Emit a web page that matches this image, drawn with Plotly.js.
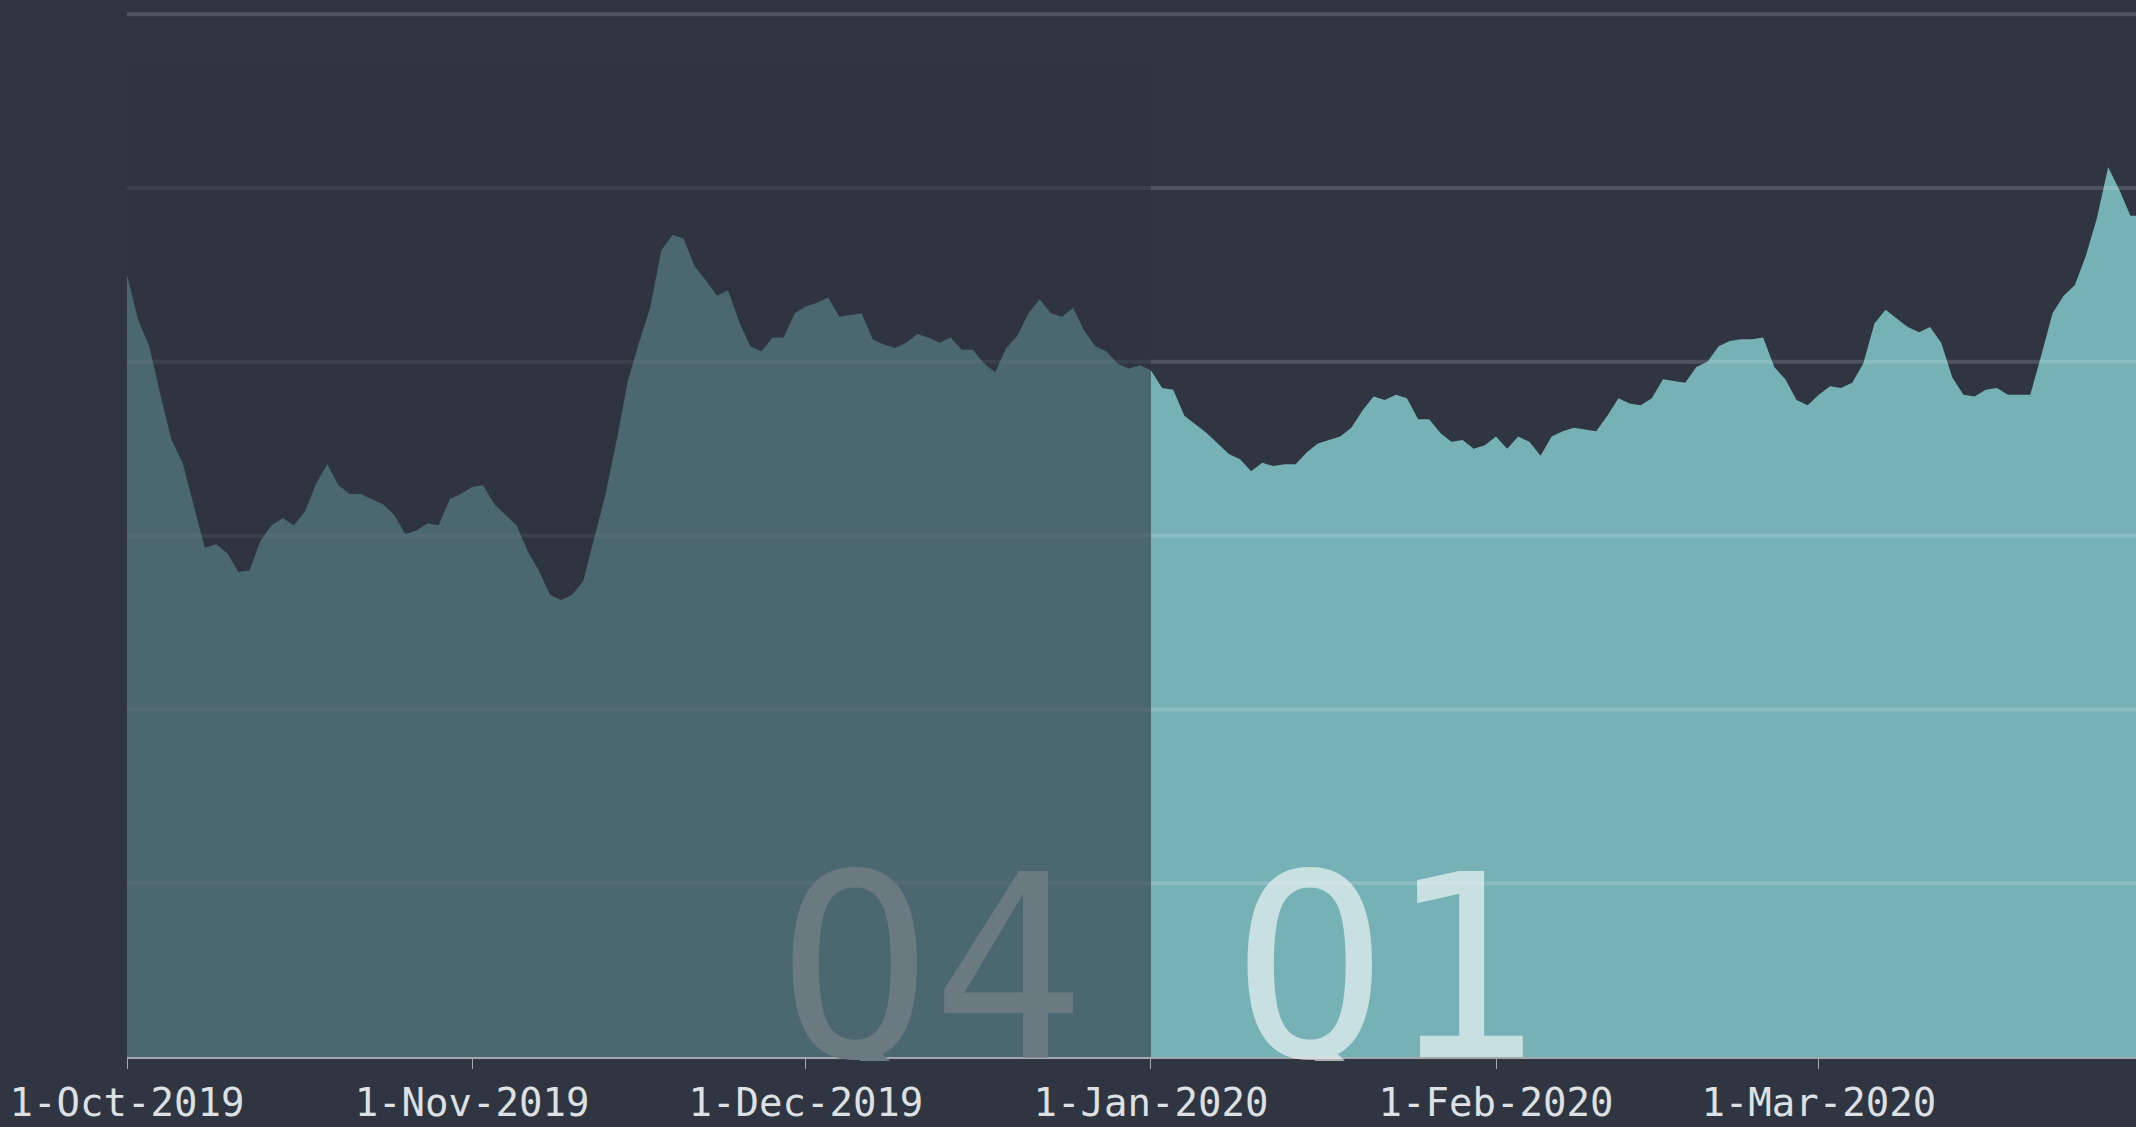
<!DOCTYPE html>
<html>
<head>
<meta charset="utf-8">
<script src="https://cdn.plot.ly/plotly-3.0.1.min.js"></script>
<style>
  html, body { margin: 0; padding: 0; background: #2f3641; }
  #chart { width: 2136px; height: 1127px; }
</style>
</head>
<body>
<div id="chart"></div>
<script>
// ---- data (daily values) ----
const startDate = '2019-10-01';
const values = [
  45.0, 42.4, 40.9, 38.1, 35.5, 34.2, 31.7, 29.3, 29.5, 29.0,
  27.9, 28.0, 29.7, 30.6, 31.0, 30.6, 31.4, 33.0, 34.1, 32.9,
  32.4, 32.4, 32.1, 31.8, 31.2, 30.1, 30.3, 30.7, 30.6, 32.1,
  32.4, 32.8, 32.9, 31.8, 31.2, 30.6, 29.1, 28.0, 26.6, 26.3,
  26.6, 27.4, 29.9, 32.4, 35.5, 38.9, 41.1, 43.1, 46.4, 47.3,
  47.1, 45.5, 44.7, 43.8, 44.1, 42.3, 40.9, 40.6, 41.4, 41.4,
  42.8, 43.2, 43.4, 43.7, 42.6, 42.7, 42.8, 41.3, 41.0, 40.8,
  41.1, 41.6, 41.4, 41.1, 41.4, 40.7, 40.7, 39.9, 39.4, 40.8,
  41.5, 42.8, 43.6, 42.8, 42.6, 43.1, 41.8, 40.9, 40.6, 39.9,
  39.6, 39.8, 39.5, 38.5, 38.4, 36.9, 36.4, 35.9, 35.3, 34.7,
  34.4, 33.7, 34.2, 34.0, 34.1, 34.1, 34.8, 35.3, 35.5, 35.7,
  36.2, 37.2, 38.0, 37.8, 38.1, 37.9, 36.7, 36.7, 35.9, 35.4,
  35.5, 35.0, 35.2, 35.7, 35.0, 35.7, 35.4, 34.6, 35.7, 36.0,
  36.2, 36.1, 36.0, 36.9, 37.9, 37.6, 37.5, 37.9, 39.0, 38.9,
  38.8, 39.7, 40.0, 40.9, 41.2, 41.3, 41.3, 41.4, 39.7, 39.0,
  37.8, 37.5, 38.1, 38.6, 38.5, 38.8, 39.9, 42.2, 43.0, 42.5,
  42.0, 41.7, 42.0, 41.1, 39.1, 38.1, 38.0, 38.4, 38.5, 38.1,
  38.1, 38.1, 40.4, 42.8, 43.8, 44.4, 46.1, 48.3, 51.2, 49.9,
  48.4, 48.4
];
const tickDates  = ['2019-10-01', '2019-11-01', '2019-12-01', '2020-01-01', '2020-02-01', '2020-03-01'];
const tickLabels = ['1-Oct-2019', '1-Nov-2019', '1-Dec-2019', '1-Jan-2020', '1-Feb-2020', '1-Mar-2020'];
const gridValues = [10, 20, 30, 40, 50, 60];
const quarterLabels = ['Q4', 'Q1'];
const q4Range = ['2019-10-01', '2020-01-01'];

// daily dates from the start date
const dates = values.map(function (_, i) {
  const d = new Date(startDate + 'T00:00:00Z');
  d.setUTCDate(d.getUTCDate() + i);
  return d.toISOString().slice(0, 10);
});

const BG = '#2f3641';
const FONT = 'DejaVu Sans Mono, Liberation Mono, monospace';

const trace = {
  type: 'scatter',
  mode: 'lines',
  x: dates,
  y: values,
  fill: 'tozeroy',
  fillcolor: '#76b1b5',
  line: { width: 0, color: '#76b1b5' },
  hoverinfo: 'skip'
};

const shapes = gridValues.map(function (v) {
  return {
    type: 'line', xref: 'paper', yref: 'y',
    x0: 0, x1: 1, y0: v, y1: v,
    line: { color: 'rgba(255,255,255,0.15)', width: 4 },
    layer: 'above'
  };
});
shapes.push({
  type: 'rect', xref: 'x', yref: 'y',
  x0: q4Range[0], x1: q4Range[1], y0: 0, y1: 57,
  fillcolor: 'rgba(47,54,65,0.6)',
  line: { width: 0 },
  layer: 'above'
});

const bigFont = function (color) {
  return { family: FONT, size: 255, color: color };
};

const layout = {
  width: 2136,
  height: 1127,
  paper_bgcolor: BG,
  plot_bgcolor: BG,
  margin: { l: 127, r: 0, t: 0, b: 70 },
  showlegend: false,
  xaxis: {
    type: 'date',
    range: ['2019-10-01', '2020-03-29 12:00'],
    tickmode: 'array',
    tickvals: tickDates,
    ticktext: tickLabels,
    ticks: 'outside',
    ticklen: 10,
    tickwidth: 1,
    tickcolor: '#a3a8ac',
    showline: true,
    linecolor: '#a3a8ac',
    linewidth: 2,
    showgrid: false,
    zeroline: false,
    layer: 'above traces',
    tickfont: { family: FONT, size: 39, color: '#dde1e4' },
    fixedrange: true
  },
  yaxis: {
    range: [0, 60.82],
    showgrid: false,
    zeroline: false,
    showticklabels: false,
    ticks: '',
    showline: false,
    fixedrange: true
  },
  shapes: shapes,
  annotations: [
    {
      x: '2019-12-12 07:00', y: 0, xref: 'x', yref: 'y',
      xanchor: 'center', yanchor: 'bottom', yshift: -6,
      height: 241, valign: 'top',
      text: quarterLabels[0], showarrow: false,
      font: bigFont('#6b7980')
    },
    {
      x: '2020-01-22 03:00', y: 0, xref: 'x', yref: 'y',
      xanchor: 'center', yanchor: 'bottom', yshift: -6,
      height: 241, valign: 'top',
      text: quarterLabels[1], showarrow: false,
      font: bigFont('rgba(255,255,255,0.6)')
    }
  ]
};

Plotly.newPlot('chart', [trace], layout, { displayModeBar: false, staticPlot: true });
</script>
</body>
</html>
